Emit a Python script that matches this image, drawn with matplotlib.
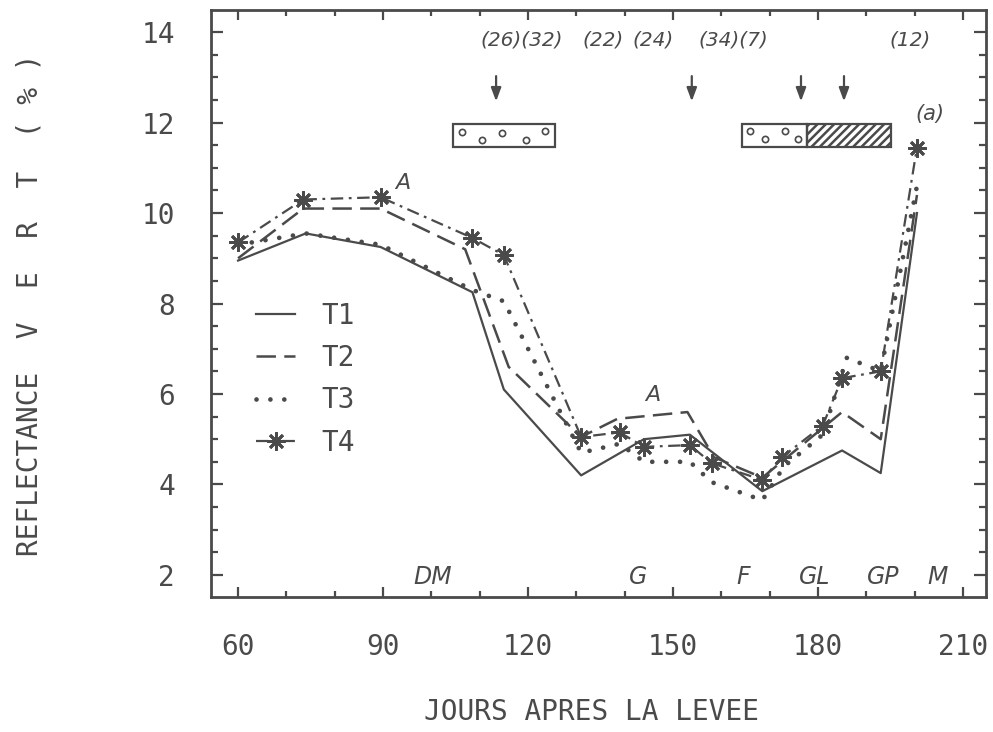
import matplotlib
matplotlib.use("Agg")
import matplotlib.pyplot as plt
from matplotlib.patches import Rectangle
from matplotlib.ticker import MultipleLocator

# ---- data ----
t1_days = [60, 74, 89.5, 108.5, 115, 131, 144, 153.5, 168.5, 185, 193, 200.5]
t1 = [8.95, 9.55, 9.25, 8.25, 6.1, 4.2, 5.0, 5.1, 3.85, 4.75, 4.25, 10.0]

t2_days = [60, 73.5, 89.5, 107, 116, 131, 138.5, 153, 158.5, 168.5, 185, 193, 200.5]
t2 = [9.0, 10.1, 10.1, 9.2, 6.6, 5.05, 5.45, 5.6, 4.6, 4.15, 5.6, 5.0, 10.4]

t3_days = [60, 74, 89.5, 108.5, 115, 131, 139, 144, 153.5, 158, 168.5, 173, 181, 186, 193, 200.5]
t3 = [9.3, 9.55, 9.3, 8.3, 8.05, 4.7, 4.9, 4.5, 4.5, 4.05, 3.65, 4.4, 5.1, 6.8, 6.5, 10.6]

t4_days = [60, 73.5, 89.5, 108.5, 115, 131, 139, 144, 153.5, 158, 168.5, 172.5, 181, 185, 193, 200.5]
t4 = [9.35, 10.3, 10.35, 9.45, 9.07, 5.05, 5.15, 4.83, 4.87, 4.47, 4.1, 4.6, 5.3, 6.35, 6.5, 11.45]

stage_labels = ["DM", "G", "F", "GL", "GP", "M"]
stage_days = [100.3, 142.8, 164.5, 179.4, 193.5, 204.8]

count_labels = ["(26)(32)", "(22)", "(24)", "(34)(7)", "(12)"]
count_days = [118.8, 135.5, 145.9, 162.4, 199.0]

arrow_days = [113.4, 153.9, 176.5, 185.4]

ink = "#4a4a4a"
mono = "DejaVu Sans Mono"
plt.rcParams["lines.scale_dashes"] = False
plt.rcParams["hatch.linewidth"] = 1.8
plt.rcParams["hatch.color"] = ink

fig = plt.figure(figsize=(9.93, 7.32), dpi=100)
ax = fig.add_axes([0.2125, 0.1844, 0.7805, 0.8019])

ast = (8, 2, 0)
l1, = ax.plot(t1_days, t1, color=ink, lw=1.6, label="T1")
l2, = ax.plot(t2_days, t2, color=ink, lw=1.8, dashes=(14, 6), label="T2")
l3, = ax.plot(t3_days, t3, color=ink, lw=3.4, dashes=(0.01, 10), dash_capstyle="round",
              label="T3")
l4, = ax.plot(t4_days, t4, color=ink, lw=1.6, dashes=(9, 4, 2, 4), marker=ast,
              markersize=13, markeredgewidth=2, label="T4")

ax.set_xlim(54.4, 214.8)
ax.set_ylim(1.51, 14.49)
ax.xaxis.set_major_locator(MultipleLocator(30))
ax.xaxis.set_minor_locator(MultipleLocator(10))
ax.yaxis.set_major_locator(MultipleLocator(2))
ax.yaxis.set_minor_locator(MultipleLocator(0.5))
ax.tick_params(which="both", direction="in", top=True, right=True, color=ink, width=1.6,
               labelcolor=ink, labelsize=20, labelfontfamily=mono)
ax.tick_params(axis="x", which="major", length=7, pad=26)
ax.tick_params(axis="x", which="minor", length=4.5)
ax.tick_params(axis="y", which="major", length=8.5, pad=26)
ax.tick_params(axis="y", which="minor", length=5)
for s in ax.spines.values():
    s.set_color(ink)
    s.set_linewidth(2)

fig.text(592 / 993, 1 - 712 / 732, "JOURS APRES LA LEVEE", ha="center", va="center",
         fontsize=20, family=mono, color=ink)
fig.text(30 / 993, 1 - 305 / 732, "REFLECTANCE  V  E  R  T  ( % )", ha="center",
         va="center", rotation=90, fontsize=20, family=mono, color=ink)

leg = ax.legend(handles=[l1, l2, l3, l4], loc="upper left", bbox_to_anchor=(0.026, 0.546),
                frameon=False, handlelength=1.4, handletextpad=0.95, labelspacing=0.52,
                prop={"family": mono, "size": 20}, labelcolor=ink)

# stage labels along the bottom
for lab, d in zip(stage_labels, stage_days):
    ax.text(d, 1.96, lab, ha="center", va="center", fontsize=17, style="italic", color=ink)

# counts and arrows at the top
for lab, d in zip(count_labels, count_days):
    ax.text(d, 13.82, lab, ha="center", va="center", fontsize=14.5, style="italic", color=ink)
for d in arrow_days:
    ax.annotate("", xy=(d, 12.41), xytext=(d, 13.09),
                arrowprops=dict(arrowstyle="-|>,head_length=0.8,head_width=0.3",
                                color=ink, lw=1.6))

ax.text(203.2, 12.19, "(a)", ha="center", va="center", fontsize=15, style="italic", color=ink)
ax.text(94, 10.66, "A", ha="center", va="center", fontsize=16, style="italic", color=ink)
ax.text(145.9, 5.98, "A", ha="center", va="center", fontsize=16, style="italic", color=ink)

# growth-stage boxes
ax.add_patch(Rectangle((104.5, 11.46), 21.1, 0.51, fill=False, ec=ink, lw=1.6))
ax.add_patch(Rectangle((164.3, 11.46), 13.4, 0.51, fill=False, ec=ink, lw=1.6))
ax.add_patch(Rectangle((177.7, 11.46), 17.4, 0.51, fill=False, ec=ink, lw=1.6, hatch="////"))
ax.plot([106.3, 110.5, 114.6, 119.6, 123.5, 165.9, 169.0, 173.2, 175.9],
        [11.79, 11.61, 11.77, 11.61, 11.81, 11.81, 11.64, 11.81, 11.64],
        ls="none", marker="o", mfc="none", mec=ink, ms=4.5, mew=1.2)

fig.savefig("out.png", dpi=100)
